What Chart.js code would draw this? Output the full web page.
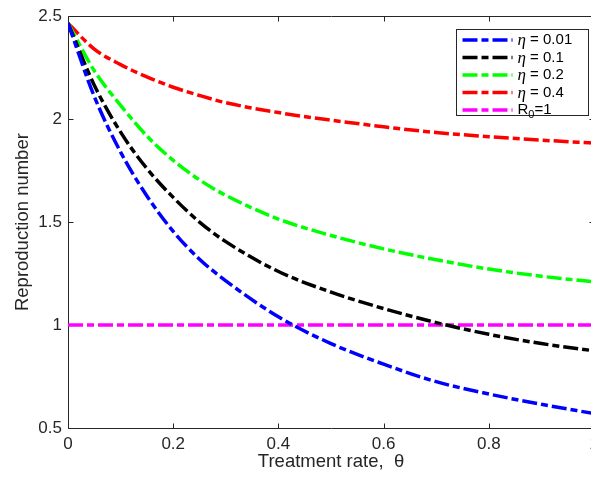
<!DOCTYPE html>
<html>
<head>
<meta charset="utf-8">
<script src="https://cdn.jsdelivr.net/npm/chart.js@4.4.1/dist/chart.umd.min.js"></script>
<style>
  html, body { margin: 0; padding: 0; overflow: hidden; background: #fff; }
  #wrap { width: 600px; height: 478px; }
</style>
</head>
<body>
<div id="wrap"><canvas id="chart" width="600" height="478"></canvas></div>
<script>
// values
const theta = [0, 0.05, 0.1, 0.15, 0.2, 0.25, 0.3, 0.4, 0.5, 0.6, 0.7, 0.8, 0.9, 1.0];
const eta001 = [2.466, 2.11, 1.84, 1.627, 1.455, 1.32, 1.215, 1.04, 0.91, 0.81, 0.725, 0.665, 0.615, 0.57];
const eta01 = [2.466, 2.165, 1.937, 1.76, 1.62, 1.5, 1.405, 1.26, 1.16, 1.08, 1.012, 0.955, 0.91, 0.875];
const eta02 = [2.466, 2.235, 2.067, 1.918, 1.8, 1.705, 1.63, 1.515, 1.435, 1.37, 1.317, 1.272, 1.237, 1.21];
const eta04 = [2.466, 2.34, 2.265, 2.205, 2.155, 2.115, 2.08, 2.032, 1.995, 1.963, 1.935, 1.915, 1.898, 1.884];
const r0Theta = [0, 1];
const r0Line = [1, 1];

const labels = ["η = 0.01", "η = 0.1", "η = 0.2", "η = 0.4", "R_0=1"];
const colors = ["#0000ff", "#000000", "#00ff00", "#ff0000", "#ff00ff"];

const ink = "#262626";
const sans = "'Liberation Sans', Arial, Helvetica, sans-serif";
const serif = "'Liberation Serif', 'Times New Roman', serif";
const dash = [15, 4, 7, 4];

const pts = (xs, ys) => ys.map((y, i) => ({ x: xs[i], y: y }));
const plain = (v) => String(+v.toFixed(2));

// text with italic eta and "_x" subscripts
function drawRich(ctx, text, x, y) {
  ctx.textBaseline = "middle";
  ctx.textAlign = "left";
  ctx.fillStyle = "#000";
  for (let i = 0; i < text.length; i++) {
    let s = text[i];
    let f = "15px " + sans;
    let dy = 0;
    if (s === "η") {
      f = "italic 17px " + serif;
      dy = 1;
    } else if (s === "_") {
      i++;
      s = text[i];
      f = "11px " + sans;
      dy = 5;
    }
    ctx.font = f;
    ctx.fillText(s, x, y + dy);
    x += ctx.measureText(s).width;
  }
}

const axisBox = {
  id: "axisBox",
  beforeDatasetsDraw(chart) {
    const { ctx, chartArea: a, scales } = chart;
    const L = Math.round(a.left) + 0.5, R = Math.round(a.right) + 0.5;
    const T = Math.round(a.top) + 0.5, B = Math.round(a.bottom) + 0.5;
    ctx.save();
    ctx.strokeStyle = ink;
    ctx.lineWidth = 1;
    ctx.beginPath();
    ctx.moveTo(L, T); ctx.lineTo(R, T); ctx.lineTo(R, B); ctx.lineTo(L, B); ctx.closePath();
    scales.x.ticks.forEach(t => {
      const px = Math.round(scales.x.getPixelForValue(t.value)) + 0.5;
      ctx.moveTo(px, B); ctx.lineTo(px, B - 5);
      ctx.moveTo(px, T); ctx.lineTo(px, T + 5);
    });
    scales.y.ticks.forEach(t => {
      const py = Math.round(scales.y.getPixelForValue(t.value)) + 0.5;
      ctx.moveTo(L, py); ctx.lineTo(L + 5, py);
      ctx.moveTo(R, py); ctx.lineTo(R - 5, py);
    });
    ctx.stroke();
    ctx.restore();
  }
};

const boxLegend = {
  id: "boxLegend",
  afterDatasetsDraw(chart) {
    const { ctx, chartArea: a } = chart;
    const bx = Math.round(a.right) - 138 + 0.5, by = Math.round(a.top) + 13 + 0.5;
    const bw = 132, bh = 86;
    ctx.save();
    ctx.fillStyle = "#fff";
    ctx.fillRect(bx, by, bw, bh);
    ctx.strokeStyle = ink;
    ctx.lineWidth = 1;
    ctx.strokeRect(bx, by, bw, bh);
    chart.data.datasets.forEach((ds, i) => {
      const y = by + 10.5 + i * 17.5;
      ctx.save();
      ctx.setLineDash(ds.borderDash);
      ctx.lineWidth = ds.borderWidth;
      ctx.strokeStyle = ds.borderColor;
      ctx.beginPath();
      ctx.moveTo(bx + 6, y);
      ctx.lineTo(bx + 56, y);
      ctx.stroke();
      ctx.restore();
      drawRich(ctx, ds.label, bx + 61, y);
    });
    ctx.restore();
  }
};

const series = [pts(theta, eta001), pts(theta, eta01), pts(theta, eta02), pts(theta, eta04), pts(r0Theta, r0Line)];

new Chart(document.getElementById("chart"), {
  type: "line",
  data: {
    datasets: series.map((d, i) => ({
      label: labels[i],
      data: d,
      borderColor: colors[i],
      backgroundColor: colors[i],
      borderWidth: 3.5,
      borderDash: dash,
      pointRadius: 0,
      fill: false,
      cubicInterpolationMode: "monotone",
    })),
  },
  options: {
    responsive: false,
    animation: false,
    devicePixelRatio: 1,
    layout: { padding: { top: 15, right: 6, left: 0, bottom: 0 } },
    plugins: {
      legend: { display: false },
      tooltip: { enabled: false },
    },
    scales: {
      x: {
        type: "linear",
        min: 0,
        max: 1,
        grid: { display: false, drawTicks: false },
        border: { display: false },
        ticks: { stepSize: 0.2, padding: 6, color: ink, font: { family: sans, size: 17 }, callback: plain },
        title: {
          display: true,
          text: "Treatment rate,  θ",
          color: ink,
          font: { family: sans, size: 18.5 },
          padding: { top: 0, bottom: 5 },
        },
        afterFit: (s) => { s.height = 50; s.paddingLeft = 0; s.paddingRight = 0; },
      },
      y: {
        min: 0.5,
        max: 2.5,
        grid: { display: false, drawTicks: false },
        border: { display: false },
        ticks: { stepSize: 0.5, padding: 6, color: ink, font: { family: sans, size: 17 }, callback: plain },
        title: {
          display: true,
          text: "Reproduction number",
          color: ink,
          font: { family: sans, size: 18.5 },
          padding: { top: 12, bottom: 0 },
        },
        afterFit: (s) => { s.width = 68; },
      },
    },
  },
  plugins: [axisBox, boxLegend],
});
</script>
</body>
</html>
